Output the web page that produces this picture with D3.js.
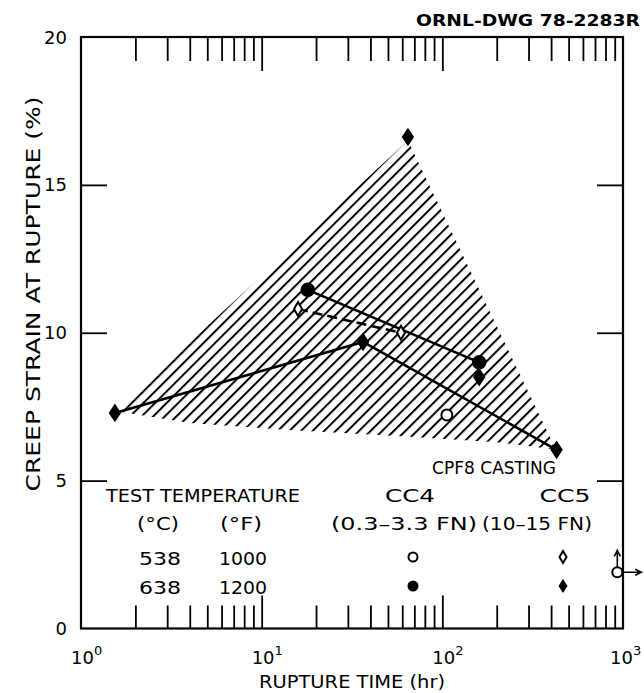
<!DOCTYPE html>
<html><head><meta charset="utf-8">
<script src="https://cdn.jsdelivr.net/npm/d3@7"></script>
<style>
html,body{margin:0;padding:0;background:#fff;}
text{font-family:"DejaVu Sans",sans-serif;fill:#000;}
</style></head>
<body>
<svg id="chart" width="644" height="693"></svg>
<script>
// ---- data ----
const xDomain = [1, 1000];
const yDomain = [0, 20];
const yTickValues = [0, 5, 10, 15, 20];
const xMajorExponents = [0, 1, 2, 3];
// CC4 (0.3-3.3 FN)
const cc4_538 = [[106, 7.22]];
const cc4_638 = [[18.0, 11.45], [160, 9.0]];
// CC5 (10-15 FN)
const cc5_538 = [[15.9, 10.8], [59, 10.0]];
const cc5_638 = [[1.54, 7.29], [36.4, 9.69], [64.5, 16.62], [160, 8.5], [429, 6.04]];
// runout (test still running) CC4 538 C
const cc4_538_runout = [[930, 1.9]];
// lines through data
const lineCC4_638 = [[18.0, 11.45], [160, 9.0]];
const lineCC5_538 = [[15.9, 10.8], [59, 10.0]];
const lineCC5_638 = [[1.54, 7.29], [36.4, 9.69], [429, 6.04]];
// scatter band (hatched)
const band = [[1.55, 7.35], [64.5, 16.5], [425, 6.05], [200, 6.3], [60, 6.5], [15, 6.7], [4, 6.95]];

const W = 644, H = 693;
const m = {left: 81, right: 21, top: 37, bottom: 64.5};
const svg = d3.select("#chart");
const x = d3.scaleLog().domain(xDomain).range([m.left, W - m.right]);
const y = d3.scaleLinear().domain(yDomain).range([H - m.bottom, m.top]);

// hatch pattern
const defs = svg.append("defs");
const pat = defs.append("pattern").attr("id", "hatch")
  .attr("patternUnits", "userSpaceOnUse").attr("width", 8.2).attr("height", 8.2)
  .attr("patternTransform", "rotate(45)");
pat.append("line").attr("x1", 1).attr("y1", -1).attr("x2", 1).attr("y2", 10)
  .attr("stroke", "#000").attr("stroke-width", 2);

const line = d3.line().x(d => x(d[0])).y(d => y(d[1]));

svg.append("path").datum(band)
  .attr("d", d3.line().x(d => x(d[0])).y(d => y(d[1])).curve(d3.curveLinearClosed))
  .attr("fill", "url(#hatch)").attr("stroke", "none");

// frame
svg.append("rect").attr("x", x(1)).attr("y", y(20))
  .attr("width", x(1000) - x(1)).attr("height", y(0) - y(20))
  .attr("fill", "none").attr("stroke", "#000").attr("stroke-width", 2.2);

// x ticks (inside), minor and major, bottom and top
const minor = [];
[1, 10, 100].forEach(b => { for (let k = 2; k <= 9; k++) minor.push(b * k); });
const major = [10, 100];
function xTicks(vals, size, pos) {
  const ax = (pos === "bottom" ? d3.axisBottom(x) : d3.axisTop(x))
    .tickValues(vals).tickSize(-size).tickFormat("");
  const g = svg.append("g")
    .attr("transform", `translate(0,${pos === "bottom" ? y(0) : y(20)})`).call(ax);
  g.select(".domain").remove();
  g.selectAll("line").attr("stroke", "#000").attr("stroke-width", 1.8);
}
xTicks(minor, 23, "bottom"); xTicks(major, 33, "bottom");
xTicks(minor, 24, "top"); xTicks(major, 34, "top");

// y ticks inside both sides
function yTicks(pos) {
  const ax = (pos === "left" ? d3.axisLeft(y) : d3.axisRight(y))
    .tickValues([5, 10, 15]).tickSize(-26).tickFormat("");
  const g = svg.append("g")
    .attr("transform", `translate(${pos === "left" ? x(1) : x(1000)},0)`).call(ax);
  g.select(".domain").remove();
  g.selectAll("line").attr("stroke", "#000").attr("stroke-width", 1.8);
}
yTicks("left"); yTicks("right");

// y tick labels
svg.append("g").selectAll("text").data(yTickValues).join("text")
  .attr("x", 67).attr("y", d => y(d) + 6.5)
  .attr("text-anchor", "end").attr("font-size", 18).text(d => d);

// x tick labels
const xl = svg.append("g").selectAll("text").data(xMajorExponents).join("text")
  .attr("x", d => x(Math.pow(10, d)) - (d === 3 ? 13 : 10)).attr("y", 664)
  .attr("text-anchor", "start").attr("font-size", 18);
xl.append("tspan").text("10");
xl.append("tspan").attr("dy", -9).attr("font-size", 13).text(d => d);

// helper for text stretched to the reference's wide lettering
function label(g, txt, cx, by, len, size) {
  return g.append("text").attr("x", cx).attr("y", by).attr("text-anchor", "middle")
    .attr("font-size", size).attr("textLength", len).attr("lengthAdjust", "spacingAndGlyphs").text(txt);
}

// axis titles
label(svg, "RUPTURE TIME (hr)", 352, 688, 186, 18);
svg.append("text").attr("transform", "translate(40,294) rotate(-90)")
  .attr("text-anchor", "middle").attr("font-size", 19)
  .attr("textLength", 395).attr("lengthAdjust", "spacingAndGlyphs").text("CREEP STRAIN AT RUPTURE (%)");
svg.append("text").attr("x", 640).attr("y", 26).attr("text-anchor", "end")
  .attr("font-size", 16).attr("font-weight", "bold")
  .attr("textLength", 224).attr("lengthAdjust", "spacingAndGlyphs").text("ORNL-DWG 78-2283R");

// lines
svg.append("path").datum(lineCC5_638).attr("d", line)
  .attr("fill", "none").attr("stroke", "#000").attr("stroke-width", 2.6);
svg.append("path").datum(lineCC4_638).attr("d", line)
  .attr("fill", "none").attr("stroke", "#000").attr("stroke-width", 2.6);
svg.append("path").datum(lineCC5_538).attr("d", line)
  .attr("fill", "none").attr("stroke", "#000").attr("stroke-width", 2.6)
  .attr("stroke-dasharray", "10,5");

// markers
const diamond = (w, h) => `M0,${-h/2}L${w/2},0L0,${h/2}L${-w/2},0Z`;
function circles(data, r, filled) {
  svg.append("g").selectAll("circle").data(data).join("circle")
    .attr("cx", d => x(d[0])).attr("cy", d => y(d[1])).attr("r", r)
    .attr("fill", filled ? "#000" : "#fff").attr("stroke", "#000").attr("stroke-width", 2);
}
function diamonds(data, w, h, filled) {
  svg.append("g").selectAll("path").data(data).join("path")
    .attr("transform", d => `translate(${x(d[0])},${y(d[1])})`).attr("d", diamond(w, h))
    .attr("fill", filled ? "#000" : "#fff").attr("stroke", "#000").attr("stroke-width", 2);
}
circles(cc4_538, 5.5, false);
circles(cc4_538_runout, 5, false);
circles(cc4_638, 6.3, true);
diamonds(cc5_538, 8, 14, false);
diamonds(cc5_638, 10, 15, true);

// runout arrows
const ro = cc4_538_runout[0];
const rx = x(ro[0]), ry = y(ro[1]);
svg.append("path").attr("d", `M${rx},${ry-5}V${ry-22}M${rx-3},${ry-16}L${rx},${ry-22}L${rx+3},${ry-16}`)
  .attr("fill", "none").attr("stroke", "#000").attr("stroke-width", 1.6);
svg.append("path").attr("d", `M${rx+5},${ry}H${rx+24}M${rx+18},${ry-3}L${rx+24},${ry}L${rx+18},${ry+3}`)
  .attr("fill", "none").attr("stroke", "#000").attr("stroke-width", 1.6);

// legend
const lg = svg.append("g");
label(lg, "CPF8 CASTING", 494, 474, 124, 18);
label(lg, "TEST TEMPERATURE", 203, 502, 194, 18);
label(lg, "CC4", 410, 502, 50, 18);
label(lg, "CC5", 565, 502, 51, 18);
label(lg, "(°C)", 158, 530, 42, 18);
label(lg, "(°F)", 241, 530, 42, 18);
label(lg, "(0.3–3.3 FN)", 404, 530, 146, 18);
label(lg, "(10–15 FN)", 537, 530, 110, 18);
label(lg, "538", 160, 564.5, 42, 18);
label(lg, "1000", 243, 564.5, 48, 18);
label(lg, "638", 160, 593.5, 42, 18);
label(lg, "1200", 243, 593.5, 48, 18);
lg.append("circle").attr("cx", 413).attr("cy", 557).attr("r", 4.5).attr("fill", "#fff").attr("stroke", "#000").attr("stroke-width", 2);
lg.append("path").attr("transform", "translate(563,557)").attr("d", diamond(7, 12)).attr("fill", "#fff").attr("stroke", "#000").attr("stroke-width", 2);
lg.append("circle").attr("cx", 413).attr("cy", 586).attr("r", 5.5).attr("fill", "#000");
lg.append("path").attr("transform", "translate(563,586)").attr("d", diamond(9, 14)).attr("fill", "#000");
</script>
</body></html>
